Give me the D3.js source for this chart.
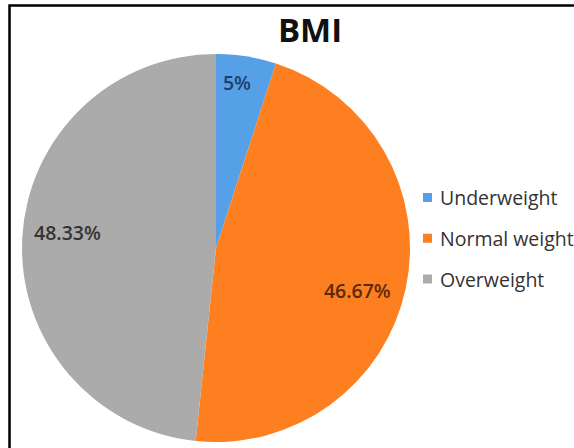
<!DOCTYPE html>
<html><head><meta charset="utf-8">
<script src="https://cdn.jsdelivr.net/npm/d3@7"></script>
<style>
html,body{margin:0;padding:0;background:#fff;overflow:hidden;}
svg{display:block;}
</style></head>
<body>
<svg id="chart" width="574" height="448"></svg>
<script>
const categories = ["Underweight", "Normal weight", "Overweight"];
const values = [5, 46.67, 48.33];
const labels = ["5%", "46.67%", "48.33%"];
const colors = ["#55A0E6", "#FE7F1F", "#ABABAB"];
const labelColors = ["#1E3F6E", "#5A2A08", "#333333"];
const title = "BMI";

const svg = d3.select("#chart");
const font = "'Open Sans', 'Liberation Sans', sans-serif";

// border
svg.append("rect").attr("x", 9.5).attr("y", 5.5).attr("width", 600).attr("height", 500)
  .attr("fill", "none").attr("stroke", "#000").attr("stroke-width", 2.5);

svg.append("text").attr("x", 310).attr("y", 42).attr("text-anchor", "middle")
  .attr("font-family", font).attr("font-weight", "bold").attr("font-size", 33)
  .attr("fill", "#111").text(title);

const cx = 216, cy = 248, R = 194;
const pie = d3.pie().sort(null).value(d => d)(values);
const arc = d3.arc().innerRadius(0).outerRadius(R);
const g = svg.append("g").attr("transform", `translate(${cx},${cy})`);
g.selectAll("path").data(pie).join("path")
  .attr("d", arc).attr("fill", (d, i) => colors[i]);

// label placement: radius fraction and angular shift (degrees) from slice mid-angle
const labelR = [0.86, 0.76, 0.77];
const labelShift = [-1.8, 4.6, 3];
g.selectAll("text").data(pie).join("text")
  .attr("transform", (d, i) => {
    const a = (d.startAngle + d.endAngle) / 2 + labelShift[i] * Math.PI / 180;
    const r = R * labelR[i];
    return `translate(${r * Math.sin(a)},${-r * Math.cos(a)})`;
  })
  .attr("text-anchor", "middle").attr("dominant-baseline", "central")
  .attr("font-family", font).attr("font-size", 19.5).attr("font-weight", 600)
  .attr("fill", (d, i) => labelColors[i]).text((d, i) => labels[i]);

const leg = svg.append("g");
const ly = d3.scalePoint().domain(categories).range([197.5, 279]);
categories.forEach((c, i) => {
  leg.append("rect").attr("x", 423).attr("y", ly(c) - 4.5).attr("width", 9).attr("height", 9)
    .attr("fill", colors[i]);
  leg.append("text").attr("x", 440).attr("y", ly(c)).attr("dominant-baseline", "central")
    .attr("font-family", font).attr("font-size", 19.5).attr("font-weight", 500)
    .attr("fill", "#333").text(c);
});
</script>
</body></html>
